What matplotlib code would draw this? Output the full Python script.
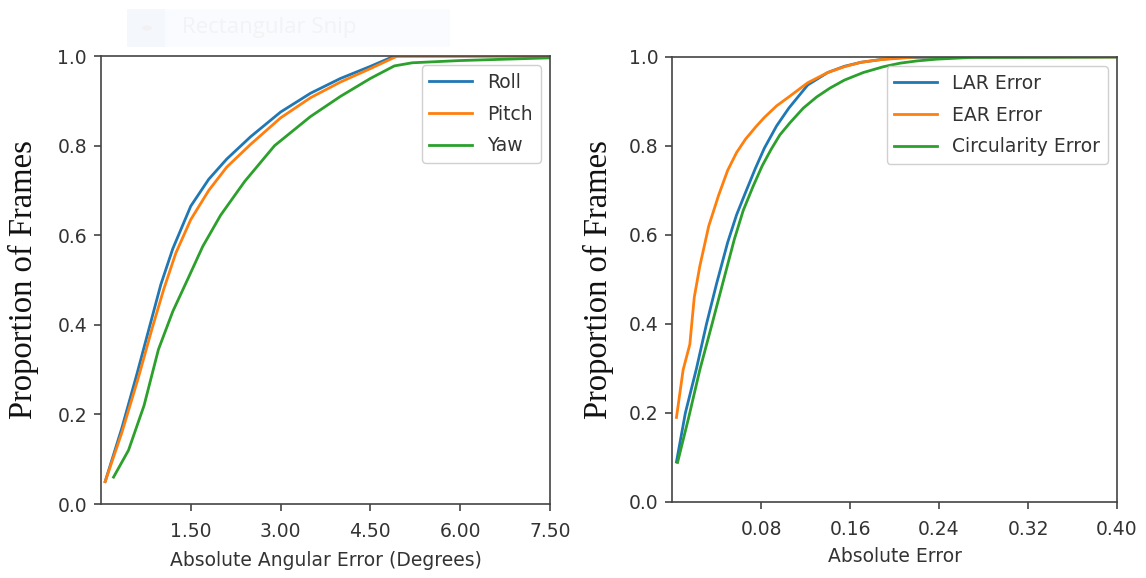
import matplotlib
matplotlib.use("Agg")
import matplotlib.pyplot as plt
from matplotlib.patches import Rectangle, Circle

# ---------------------------------------------------------------
# CDF data: head pose angles (left) and eye/lip ratio errors (right)
# ---------------------------------------------------------------
roll_x = [0.07, 0.35, 0.6, 0.8, 1.0, 1.2, 1.5, 1.8, 2.1, 2.5, 3.0, 3.5, 4.0, 4.5, 4.9, 7.5]
roll_y = [0.05, 0.17, 0.29, 0.39, 0.49, 0.57, 0.665, 0.725, 0.77, 0.82, 0.875, 0.917, 0.95, 0.977, 1.0, 1.0]

pitch_x = [0.07, 0.35, 0.62, 0.85, 1.05, 1.25, 1.5, 1.8, 2.1, 2.5, 3.0, 3.5, 4.0, 4.5, 4.95, 7.5]
pitch_y = [0.05, 0.16, 0.28, 0.39, 0.48, 0.56, 0.635, 0.70, 0.752, 0.803, 0.862, 0.907, 0.942, 0.972, 1.0, 1.0]

yaw_x = [0.21, 0.46, 0.72, 0.96, 1.2, 1.46, 1.7, 2.0, 2.4, 2.9, 3.5, 4.0, 4.5, 4.9, 5.2, 6.0, 7.5]
yaw_y = [0.06, 0.12, 0.22, 0.345, 0.43, 0.505, 0.575, 0.645, 0.72, 0.80, 0.865, 0.91, 0.95, 0.978, 0.985, 0.99, 0.996]

lar_x = [0.004, 0.012, 0.022, 0.031, 0.04, 0.05, 0.058, 0.066, 0.075, 0.083, 0.094, 0.105, 0.122, 0.14, 0.155, 0.17, 0.19, 0.21, 0.4]
lar_y = [0.09, 0.20, 0.30, 0.40, 0.49, 0.583, 0.645, 0.695, 0.75, 0.795, 0.845, 0.885, 0.937, 0.965, 0.979, 0.988, 0.995, 0.999, 1.0]

ear_x = [0.004, 0.01, 0.016, 0.02, 0.025, 0.033, 0.042, 0.05, 0.058, 0.066, 0.075, 0.083, 0.094, 0.106, 0.122, 0.14, 0.155, 0.17, 0.188, 0.22, 0.4]
ear_y = [0.19, 0.297, 0.354, 0.46, 0.53, 0.62, 0.69, 0.745, 0.785, 0.815, 0.842, 0.864, 0.89, 0.912, 0.942, 0.965, 0.978, 0.988, 0.994, 1.0, 1.0]

circ_x = [0.005, 0.015, 0.025, 0.036, 0.0465, 0.056, 0.064, 0.073, 0.081, 0.089, 0.097, 0.106, 0.118, 0.13, 0.142, 0.155, 0.172, 0.19, 0.205, 0.22, 0.238, 0.27, 0.4]
circ_y = [0.089, 0.19, 0.297, 0.40, 0.50, 0.59, 0.655, 0.71, 0.755, 0.792, 0.825, 0.852, 0.885, 0.91, 0.93, 0.948, 0.965, 0.978, 0.986, 0.991, 0.995, 0.999, 1.0]

angle_ticks = [1.5, 3.0, 4.5, 6.0, 7.5]
error_ticks = [0.08, 0.16, 0.24, 0.32, 0.40]
prop_ticks = [0.0, 0.2, 0.4, 0.6, 0.8, 1.0]

FS = 13.5
TXT = "#333333"
SPINE = "#444444"
LW = 2.0

plt.rcParams.update({
    "font.family": "DejaVu Sans",
    "font.size": FS,
    "axes.edgecolor": SPINE,
    "axes.linewidth": 1.2,
    "xtick.color": SPINE,
    "ytick.color": SPINE,
    "xtick.labelcolor": TXT,
    "ytick.labelcolor": TXT,
    "xtick.major.size": 5,
    "ytick.major.size": 5,
    "xtick.major.width": 1.2,
    "ytick.major.width": 1.2,
})

fig = plt.figure(figsize=(11.46, 5.78), dpi=100)
ax1 = fig.add_axes([0.0881, 0.128, 0.3918, 0.775])
ax2 = fig.add_axes([0.5864, 0.1315, 0.3883, 0.770])

# --- left: angular errors ---
ax1.plot(roll_x, roll_y, color="tab:blue", lw=LW, label="Roll")
ax1.plot(pitch_x, pitch_y, color="tab:orange", lw=LW, label="Pitch")
ax1.plot(yaw_x, yaw_y, color="tab:green", lw=LW, label="Yaw")
ax1.set_xlim(0, 7.5)
ax1.set_xticks(angle_ticks)
ax1.set_xticklabels([f"{t:.2f}" for t in angle_ticks])
ax1.set_xlabel("Absolute Angular Error (Degrees)", color=TXT, fontsize=FS, labelpad=7)

# --- right: ratio errors ---
ax2.plot(lar_x, lar_y, color="tab:blue", lw=LW, label="LAR Error")
ax2.plot(ear_x, ear_y, color="tab:orange", lw=LW, label="EAR Error")
ax2.plot(circ_x, circ_y, color="tab:green", lw=LW, label="Circularity Error")
ax2.set_xlim(0, 0.4)
ax2.set_xticks(error_ticks)
ax2.set_xticklabels([f"{t:.2f}" for t in error_ticks])
ax2.set_xlabel("Absolute Error", color=TXT, fontsize=FS, labelpad=6)

for ax in (ax1, ax2):
    ax.set_ylim(0, 1.0)
    ax.set_yticks(prop_ticks)
    ax.set_yticklabels([f"{t:.1f}" for t in prop_ticks])
    ax.tick_params(axis="x", labelsize=FS, pad=8)
    ax.tick_params(axis="y", labelsize=FS, pad=5)
    leg = ax.legend(loc="upper right", fontsize=FS, framealpha=1.0,
                    borderaxespad=0.5, labelspacing=0.68, handlelength=2.3)
    leg.get_frame().set_edgecolor("#d0d0d0")
    for t in leg.get_texts():
        t.set_color(TXT)

ax1.set_ylabel("Proportion of Frames", family="Liberation Serif",
               fontsize=23.5, color="#111111", labelpad=13)
ax2.set_ylabel("Proportion of Frames", family="Liberation Serif",
               fontsize=23.5, color="#111111", labelpad=10)

# faint screen-capture toolbar left over at the top
fig.patches.append(Rectangle((127 / 1146, 1 - 47 / 578), 323 / 1146, 38 / 578,
                             transform=fig.transFigure, facecolor="#f9fbfe",
                             edgecolor="none", zorder=0))
fig.patches.append(Rectangle((127 / 1146, 1 - 47 / 578), 38 / 1146, 38 / 578,
                             transform=fig.transFigure, facecolor="#f4f8fd",
                             edgecolor="none", zorder=0))
fig.patches.append(Circle((147 / 1146, 1 - 28 / 578), 5 / 1146,
                          transform=fig.transFigure, facecolor="#f3f0f0",
                          edgecolor="none", zorder=1))
fig.text(182 / 1146, 1 - 28 / 578, "Rectangular Snip", fontsize=16,
         family="Open Sans", color="#f1f3f5", va="center", ha="left")

fig.savefig("out.png", dpi=100)
